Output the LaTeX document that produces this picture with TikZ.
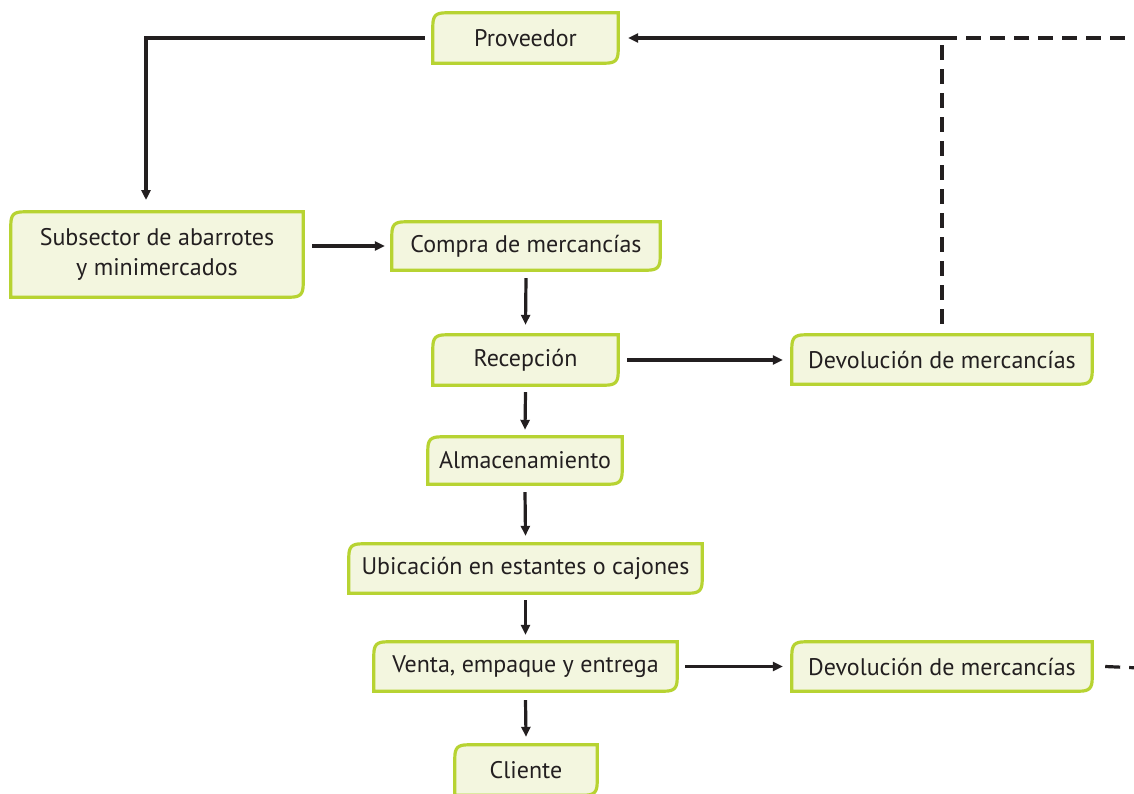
\documentclass[tikz,border=0pt]{standalone}
\usepackage{fontspec}
\setmainfont{PT Sans}
\usetikzlibrary{arrows.meta,backgrounds,calc}
\definecolor{bxfill}{HTML}{F3F6DF}
\definecolor{bxline}{HTML}{B7D332}
\definecolor{ink}{HTML}{231F20}
\tikzset{
  bx/.style={inner sep=0pt, text=ink, font=\fontsize{24}{30}\selectfont, align=center},
  arr/.style={draw=ink, line width=3.2pt, -{Triangle[length=10pt,width=9pt]}},
  dash line/.style={draw=ink, line width=3.2pt, dash pattern=on 15pt off 9pt},
  bxshape/.style={fill=bxfill, draw=bxline, line width=3.2pt}
}
\newcommand{\bxdraw}[1]{%
  \path[bxshape] (#1.south west) -- ([yshift=-13pt]#1.north west) .. controls ([yshift=-3pt]#1.north west) and ([xshift=3pt]#1.north west) .. ([xshift=13pt]#1.north west)
    -- (#1.north east) -- ([yshift=13pt]#1.south east) .. controls ([yshift=3pt]#1.south east) and ([xshift=-3pt]#1.south east) .. ([xshift=-13pt]#1.south east) -- cycle;}
\begin{document}
\begin{tikzpicture}[x=1pt,y=-1pt]
\useasboundingbox (0,0) rectangle (1134,793);
\node[bx, minimum width=185pt, minimum height=50pt] (prov) at (525.5,38) {Proveedor};
\node[bx, minimum width=292pt, minimum height=85pt] (sub) at (157,254.5) {Subsector de abarrotes\\y minimercados};
\node[bx, minimum width=268pt, minimum height=48pt] (compra) at (526,246) {Compra de mercancías};
\node[bx, minimum width=185pt, minimum height=50pt] (recep) at (525.5,360) {Recepción};
\node[bx, minimum width=300pt, minimum height=49pt] (dev1) at (942,359.5) {Devolución de mercancías};
\node[bx, minimum width=194pt, minimum height=47pt] (alm) at (525,460.5) {Almacenamiento};
\node[bx, minimum width=353pt, minimum height=49pt] (ubic) at (525.5,568.5) {Ubicación en estantes o cajones};
\node[bx, minimum width=303pt, minimum height=49pt] (venta) at (525.5,666.5) {Venta, empaque y entrega};
\node[bx, minimum width=300pt, minimum height=49pt] (dev2) at (942,666.5) {Devolución de mercancías};
\node[bx, minimum width=142pt, minimum height=50pt] (cli) at (526,770) {Cliente};
\begin{pgfonlayer}{background}
\foreach \n in {prov,sub,compra,recep,dev1,alm,ubic,venta,dev2,cli} {\bxdraw{\n}}
\end{pgfonlayer}
\coordinate (c1) at (146,200);
\coordinate (j) at (dev1.north |- prov.east);
\coordinate (e1) at (1140,38);
\coordinate (e2) at (1140,668);
\draw[arr] ([xshift=-8pt]prov.west) -| (c1);
\draw[arr] ([xshift=9pt]sub.east |- compra.west) -- ([xshift=-7pt]compra.west);
\draw[arr] ([yshift=-8pt]compra.south) -- ([yshift=10pt]recep.north);
\draw[arr] ([xshift=9pt]recep.east) -- ([xshift=-9pt]dev1.west |- recep.east);
\draw[arr] ([yshift=-7pt]recep.south) -- ([yshift=7pt]alm.north);
\draw[arr] ([yshift=-8pt]alm.south) -- ([yshift=8pt]ubic.north);
\draw[arr] ([yshift=-7pt]ubic.south) -- ([yshift=7pt]venta.north);
\draw[arr] ([xshift=8pt]venta.east) -- ([xshift=-9pt]dev2.west);
\draw[arr] ([yshift=-9pt]venta.south) -- ([yshift=8pt]cli.north);
\draw[dash line] ([yshift=11pt]dev1.north) -- (j);
\draw[arr] (j) -- ([xshift=10pt]prov.east);
\draw[dash line] (j) -- (e1);
\draw[dash line] ([xshift=13pt]dev2.east) -- (e2);
\end{tikzpicture}
\end{document}
